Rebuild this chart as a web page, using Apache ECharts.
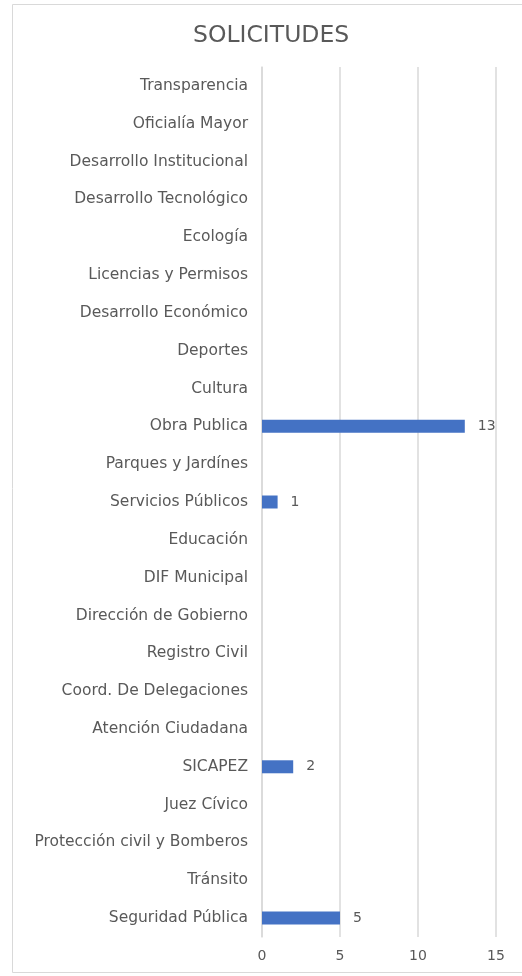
<!DOCTYPE html>
<html><head><meta charset="utf-8">
<script src="https://cdn.jsdelivr.net/npm/echarts@6/dist/echarts.min.js"></script>
<style>html,body{margin:0;padding:0;background:#fff}#c{width:522px;height:976px}</style>
</head><body><div id="c"></div>
<script>
const categories = ["Seguridad Pública","Tránsito","Protección civil y Bomberos","Juez Cívico","SICAPEZ","Atención Ciudadana","Coord. De Delegaciones","Registro Civil","Dirección de Gobierno","DIF Municipal","Educación","Servicios Públicos","Parques y Jardínes","Obra Publica","Cultura","Deportes","Desarrollo Económico","Licencias y Permisos","Ecología","Desarrollo Tecnológico","Desarrollo Institucional","Oficialía Mayor","Transparencia"];
const values = [5,null,null,null,2,null,null,null,null,null,null,1,null,13,null,null,null,null,null,null,null,null,null];
const xTicks = [0,5,10,15];
</script>
<script>
const chart = echarts.init(document.getElementById('c'), null, {renderer:'canvas'});
chart.setOption({
  animation:false,
  graphic:[{type:'rect',shape:{x:12.5,y:4.5,width:520,height:968},style:{fill:'none',stroke:'#d9d9d9',lineWidth:1}}],
  title:{text:'SOLICITUDES',left:188,top:19,textStyle:{fontFamily:'DejaVu Sans',fontWeight:'normal',fontSize:23.5,color:'#595959'}},
  grid:{left:262,right:26,top:67,bottom:39,containLabel:false},
  xAxis:{type:'value',min:0,max:15,interval:5,
    axisLine:{show:false},axisTick:{show:false},
    splitLine:{show:true,lineStyle:{color:'#d9d9d9',width:1.5}},
    axisLabel:{color:'#595959',fontFamily:'DejaVu Sans',fontSize:14,margin:12,formatter:v=>xTicks.includes(v)?String(v):''}},
  yAxis:{type:'category',data:categories,
    axisLine:{show:true,lineStyle:{color:'#d9d9d9',width:1.5}},axisTick:{show:false},
    axisLabel:{color:'#595959',fontFamily:'DejaVu Sans',fontSize:15.5,margin:14}},
  series:[{type:'bar',data:values,barWidth:13,itemStyle:{color:'#4472C4'},
    label:{show:true,position:'right',distance:13,color:'#595959',fontFamily:'DejaVu Sans',fontSize:14}}]
});
</script></body></html>
